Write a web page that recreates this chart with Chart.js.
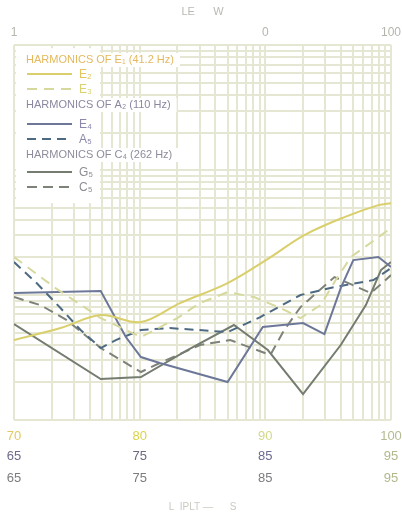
<!DOCTYPE html>
<html>
<head>
<meta charset="utf-8">
<script src="https://cdn.jsdelivr.net/npm/chart.js@4.4.0/dist/chart.umd.min.js"></script>
<style>
  html, body { margin: 0; padding: 0; background: #fff; }
  #wrap { width: 402px; height: 516px; }
</style>
</head>
<body>
<div id="wrap"><canvas id="harmonicsChart" width="402" height="516"></canvas></div>
<script>
// ---- data ----
// bottom scales (three rows of labels)
const e1ScaleLabels = [70, 80, 90, 100];
const a2ScaleLabels = [65, 75, 85, 95];
const c4ScaleLabels = [65, 75, 85, 95];
// top log scale
const topTickValues = [1, 100, 1000];
const topTickLabels = ['1', '0', '100'];

const groupTitles = ['HARMONICS OF E₁ (41.2 Hz)', 'HARMONICS OF A₂ (110 Hz)', 'HARMONICS OF C₄ (262 Hz)'];
const seriesNames = ['E₂', 'E₃', 'E₄', 'A₅', 'G₅', 'C₅'];

const e2X = [70, 73.7, 76.9, 80.1, 83.2, 87.0, 90.3, 93.1, 96.3, 99.0, 100];
const e2Y = [16, 18.4, 21, 19.6, 23.4, 27.4, 32.4, 37, 40.6, 43, 43.4];

const e3X = [70, 73.3, 76.9, 80.1, 83.0, 84.8, 87.0, 89.1, 91.2, 92.8, 94.4, 95.6, 96.8, 100];
const e3Y = [32.6, 26.4, 20.4, 16.6, 20.4, 23.4, 25.6, 24.6, 22.4, 20.4, 23, 28, 32.6, 38.4];

const e4X = [70, 76.9, 78.9, 80.1, 81.6, 87.0, 89.8, 93.0, 94.7, 96.0, 97.0, 99.0, 100];
const e4Y = [25.4, 25.8, 16.6, 12.6, 11.4, 7.6, 18.6, 19.4, 17.2, 26.4, 32, 32.6, 30.6];

const a5X = [70, 71.8, 73.7, 75.3, 76.9, 78.1, 80.1, 82.4, 87.0, 89.6, 92.8, 95.5, 98.6, 100];
const a5Y = [31.6, 27.4, 22.4, 18, 14.4, 16, 18, 18.4, 17.6, 20.6, 25, 26.6, 28, 30.4];

const g5X = [70, 76.9, 80.1, 83.8, 87.5, 90.2, 93.0, 96.0, 98.0, 99.2, 100];
const g5Y = [19.2, 8.2, 8.6, 14, 19, 14, 5.2, 15, 23, 30, 31.6];

const c5X = [70, 72.1, 74.2, 76.9, 80.1, 81.6, 84.8, 87.2, 90.4, 91.5, 92.8, 95.5, 98.4, 100];
const c5Y = [24.6, 23, 20, 14.4, 9.6, 11.4, 15, 16, 13, 18, 22.6, 28.6, 25.4, 29];

// log grid: 1..9 x 10^k
const gridDecades = [1, 10, 100];
const gridSteps = [1, 2, 3, 4, 5, 6, 7, 8, 9];

const toPoints = (xs, ys) => xs.map((x, i) => ({ x, y: ys[i] }));
const logGridTicks = () => {
    const t = [];
    gridDecades.forEach(d => gridSteps.forEach(s => t.push({ value: d * s })));
    t.push({ value: 1000 });
    return t;
};

const GRID = '#e5e7d2';
const FONT = "'Liberation Sans', Arial, sans-serif";

function makeLine(label, pts, color, dash, tension, labelColor) {
    return {
        label,
        data: pts,
        borderColor: color,
        backgroundColor: color,
        borderWidth: 2,
        borderDash: dash,
        pointRadius: 0,
        tension,
        fill: false,
        xAxisID: 'x',
        yAxisID: 'y',
        labelColor
    };
}

const datasets = [
    makeLine(seriesNames[0], toPoints(e2X, e2Y), '#d9cf6c', [], 0.35, '#e2c55c'),
    makeLine(seriesNames[1], toPoints(e3X, e3Y), '#d5d99e', [10, 7], 0, '#d9d36e'),
    makeLine(seriesNames[2], toPoints(e4X, e4Y), '#6d7899', [], 0, '#8a88ac'),
    makeLine(seriesNames[3], toPoints(a5X, a5Y), '#4e6a82', [9, 6], 0, '#8a88ac'),
    makeLine(seriesNames[4], toPoints(g5X, g5Y), '#757c70', [], 0, '#8d8d94'),
    makeLine(seriesNames[5], toPoints(c5X, c5Y), '#7e8379', [10, 6], 0, '#8d8d94')
];

const legendGroups = [
    { title: groupTitles[0], color: '#e4b95d', items: [0, 1] },
    { title: groupTitles[1], color: '#8c87a0', items: [2, 3] },
    { title: groupTitles[2], color: '#8d8d9d', items: [4, 5] }
];

// legend drawn inside the plot, on a white patch
const legendPlugin = {
    id: 'harmonicsLegend',
    beforeDatasetsDraw(chart) {
        const ctx = chart.ctx;
        const a = chart.chartArea;
        ctx.save();
        ctx.fillStyle = '#fff';
        ctx.fillRect(a.left + 2, a.top + 3, 84, 155);
        ctx.font = '11px ' + FONT;
        const headY = [60, 105, 155];
        legendGroups.forEach((g, i) => {
            const w = ctx.measureText(g.title).width;
            ctx.fillRect(a.left + 2, headY[i] - 7, w + 16, 14);
        });
        ctx.restore();
    },
    afterDatasetsDraw(chart) {
        const ctx = chart.ctx;
        const a = chart.chartArea;
        const headY = [60, 105, 155];
        const itemY = [[74, 89], [124, 139], [172, 187]];
        ctx.save();
        ctx.textBaseline = 'middle';
        legendGroups.forEach((g, gi) => {
            ctx.font = '11px ' + FONT;
            ctx.fillStyle = g.color;
            ctx.fillText(g.title, a.left + 12, headY[gi]);
            g.items.forEach((di, k) => {
                const ds = chart.data.datasets[di];
                const y = itemY[gi][k];
                ctx.strokeStyle = ds.borderColor;
                ctx.lineWidth = 2;
                ctx.setLineDash(ds.borderDash);
                ctx.beginPath();
                ctx.moveTo(a.left + 13, y);
                ctx.lineTo(a.left + 58, y);
                ctx.stroke();
                ctx.setLineDash([]);
                ctx.font = '12px ' + FONT;
                ctx.fillStyle = ds.labelColor;
                ctx.fillText(ds.label, a.left + 65, y + 1);
            });
        });
        ctx.restore();
    }
};

function fixSize(prop, size) {
    return scale => {
        scale[prop] = size;
        scale.paddingLeft = 0;
        scale.paddingRight = 0;
        scale.paddingTop = 0;
        scale.paddingBottom = 0;
    };
}

function bottomAxis(min, max, colors, weight, height) {
    return {
        type: 'linear',
        position: 'bottom',
        min, max,
        weight,
        grid: { display: false, drawTicks: false, tickLength: 0 },
        border: { display: false },
        ticks: {
            stepSize: 10,
            padding: 9,
            font: { family: FONT, size: 13 },
            color: c => colors[c.index] || colors[0],
            maxRotation: 0
        },
        afterFit: fixSize('height', height)
    };
}

const ctx = document.getElementById('harmonicsChart').getContext('2d');
new Chart(ctx, {
    type: 'line',
    data: { datasets },
    options: {
        responsive: false,
        animation: false,
        layout: { padding: { left: 14, right: 11, top: 0, bottom: 0 } },
        plugins: {
            legend: { display: false },
            tooltip: { enabled: false },
            title: {
                display: true,
                text: 'LE      W',
                color: '#b9b9b4',
                font: { family: FONT, size: 11, weight: 'normal' },
                padding: { top: 5, bottom: 3 }
            },
            subtitle: {
                display: true,
                position: 'bottom',
                text: 'L  IPLT —      S',
                color: '#cacac2',
                font: { family: FONT, size: 10 },
                padding: { top: 4, bottom: 3 }
            }
        },
        scales: {
            x: bottomAxis(70, 100, ['#e3c863', '#dcd44a', '#d3d98a', '#b5bb92'], 1, 20),
            xA: bottomAxis(65, 95, ['#6c6a8a', '#6c6a80', '#6c6a90', '#b2b88c'], 2, 22),
            xC: bottomAxis(65, 95, ['#7c7c80', '#7c7c80', '#7c7c80', '#b2b88c'], 3, 35),
            y: { type: 'linear', min: 0, max: 75, display: false },
            xTop: {
                type: 'logarithmic',
                position: 'top',
                min: 1, max: 1000,
                afterBuildTicks: s => { s.ticks = logGridTicks(); },
                grid: { color: GRID, lineWidth: 2, drawTicks: false, tickLength: 0 },
                border: { display: false },
                ticks: {
                    autoSkip: false,
                    maxRotation: 0,
                    padding: 5,
                    font: { family: FONT, size: 12 },
                    color: '#b5b5ae',
                    callback: v => {
                        const i = topTickValues.indexOf(v);
                        return i >= 0 ? topTickLabels[i] : '';
                    }
                },
                afterFit: fixSize('height', 24)
            },
            yGrid: {
                type: 'logarithmic',
                position: 'left',
                min: 1, max: 1000,
                afterBuildTicks: s => { s.ticks = logGridTicks(); },
                grid: { color: GRID, lineWidth: 2, drawTicks: false, tickLength: 0 },
                border: { display: false },
                ticks: { display: false },
                afterFit: fixSize('width', 0)
            }
        }
    },
    plugins: [legendPlugin]
});
</script>
</body>
</html>
